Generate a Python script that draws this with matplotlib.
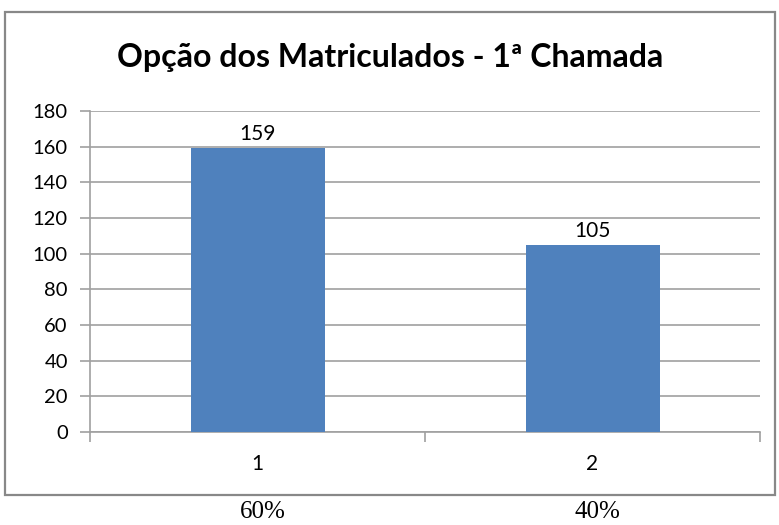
import matplotlib
matplotlib.use("Agg")
import matplotlib.pyplot as plt
from matplotlib.patches import Rectangle

categories = ["1", "2"]
values = [159, 105]
percent_labels = ["60%", "40%"]
yticks = [0, 20, 40, 60, 80, 100, 120, 140, 160, 180]
title = "Opção dos Matriculados - 1ª Chamada"

W, H = 779, 525
fig = plt.figure(figsize=(W/100, H/100), dpi=100)
plt.rcParams['font.family'] = ['Lato', 'DejaVu Sans']

# chart frame
fig.patches.append(Rectangle((5/W, 1 - 495/H), 770/W, (495-12)/H, transform=fig.transFigure,
                             fill=False, edgecolor='#888888', linewidth=1.6))

ax = fig.add_axes([90/W, 1 - 432/H, (760-90)/W, (432-111)/H])
x = list(range(len(categories)))
bars = ax.bar(x, values, width=0.4, color='#4F81BD', zorder=3)
ax.set_xlim(-0.5, len(categories) - 0.5)
ax.set_ylim(0, 180)
ax.set_yticks(yticks)
ax.set_yticklabels([str(v) for v in yticks], fontsize=14.5)
ax.yaxis.grid(True, color='#A0A0A0', linewidth=1.2, zorder=0)
ax.set_xticks(x)
ax.set_xticklabels(categories, fontsize=15)
ax.tick_params(axis='x', length=0, pad=16)
ax.set_xticks([i - 0.5 for i in range(len(categories) + 1)], minor=True)
ax.tick_params(axis='x', which='minor', length=7, color='#A0A0A0', width=1.2)
ax.tick_params(axis='y', length=7, color='#A0A0A0', width=1.2, pad=9)
for s in ['top', 'right']:
    ax.spines[s].set_visible(False)
for s in ['left', 'bottom']:
    ax.spines[s].set_color('#A0A0A0')
    ax.spines[s].set_linewidth(1.2)

for b, v in zip(bars, values):
    ax.annotate(str(v), (b.get_x() + b.get_width()/2, v), xytext=(0, 3),
                textcoords='offset points', ha='center', va='bottom', fontsize=15)

fig.text(390/W, 1 - 58/H, title, ha='center', va='center', fontsize=23, fontweight='bold')

for xi, p in zip(x, percent_labels):
    xd = ax.transData.transform((xi, 0))[0]
    fig.text((xd + 5)/W, 1 - 512/H, p, ha='center', va='center', fontsize=18,
             family=['Liberation Serif'])

fig.savefig("out.png", dpi=100)
